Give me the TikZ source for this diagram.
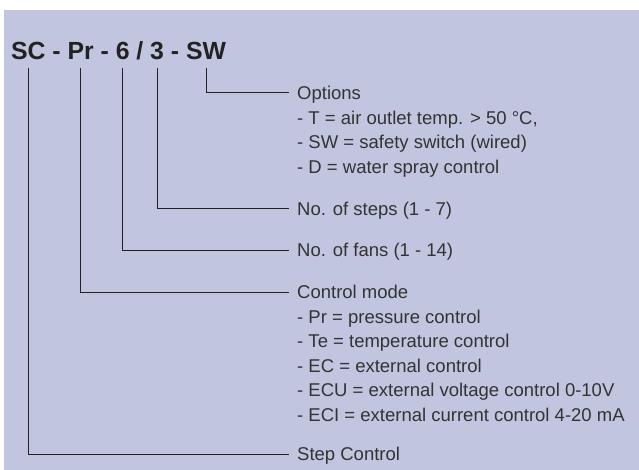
\documentclass[tikz,border=0pt]{standalone}
\usepackage{fontspec}
\setmainfont{Liberation Sans}
\usetikzlibrary{positioning}
\definecolor{bgblue}{HTML}{C2C5E0}
\definecolor{ink}{HTML}{222222}
\definecolor{textgray}{HTML}{333333}

\begin{document}
\begin{tikzpicture}[
        x=1pt, y=-1pt,
        node distance = 6.9pt,
        code/.style = {font=\fontsize{24.8}{26}\selectfont\bfseries, text=ink,
                       inner sep=0pt, outer xsep=0pt, outer ysep=8pt,
                       text depth=0pt, anchor=base west},
        head/.style = {font=\fontsize{18.5}{20}\selectfont, text=textgray,
                       anchor=west, inner xsep=8pt, inner ysep=5.6pt,
                       text height=13pt, text depth=0pt},
        item/.style = {head, anchor=north west},
        line/.style = {draw, ink, line width=1pt}
    ]
        % 背景
        \useasboundingbox (0,0) rectangle (639,470);
        \fill[bgblue] (4,10) rectangle (639,470);

        % 型式コード
        \node [code] (sc) at (11,60) {SC};
        \node [code, base right=of sc] (d1) {-};
        \node [code, base right=of d1] (pr) {Pr};
        \node [code, base right=of pr] (d2) {-};
        \node [code, base right=of d2] (c6) {6};
        \node [code, base right=of c6] (sl) {/};
        \node [code, base right=of sl] (c3) {3};
        \node [code, base right=of c3] (d3) {-};
        \node [code, base right=of d3] (sw) {SW};

        % 説明
        \node [head] (opt)   at (289,93)  {Options};
        \node [item] (opt1)  at (opt.south west)  {- T = air outlet temp. > 50 °C,};
        \node [item] (opt2)  at (opt1.south west) {- SW = safety switch (wired)};
        \node [item] (opt3)  at (opt2.south west) {- D = water spray control};
        \node [head] (steps) at (289,209) {No. of steps (1 - 7)};
        \node [head] (fans)  at (289,250) {No. of fans (1 - 14)};
        \node [head] (mode)  at (289,292) {Control mode};
        \node [item] (mode1) at (mode.south west)  {- Pr = pressure control};
        \node [item] (mode2) at (mode1.south west) {- Te = temperature control};
        \node [item] (mode3) at (mode2.south west) {- EC = external control};
        \node [item] (mode4) at (mode3.south west) {- ECU = external voltage control 0-10V};
        \node [item] (mode5) at (mode4.south west) {- ECI = external current control 4-20 mA};
        \node [head] (stepc) at (289,454) {Step Control};

        % 線
        \path [line] (sw.south) |- (opt.west);
        \path [line] (c3.south) |- (steps.west);
        \path [line] (c6.south) |- (fans.west);
        \path [line] (pr.south) |- (mode.west);
        \path [line] (sc.south) |- (stepc.west);
\end{tikzpicture}
\end{document}
